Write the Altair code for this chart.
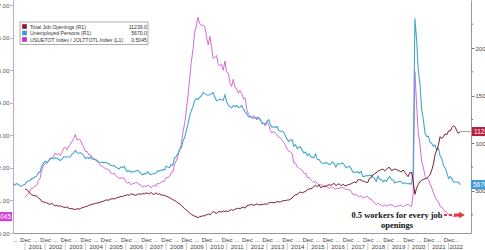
import altair as alt
import pandas as pd

# ---------------- data (thousands / ratio) ----------------
unemp_start = "2000-05-01"
unemployed = [
    5758, 5651, 5773, 5673, 5559, 5509, 5637, 5676,
    6001, 6050, 6107, 6303, 6317, 6485, 6554, 6921, 7014, 7601, 7932, 8114,
    8003, 8140, 8306, 8470, 8371, 8501, 8425, 8335, 8202, 8311, 8614, 8563,
    8584, 8544, 8582, 8847, 9001, 9248, 9022, 8961, 9033, 8893, 8719, 8395,
    8534, 8409, 8553, 8330, 8351, 8305, 8202, 8011, 7973, 8028, 7951, 8013,
    7947, 7855, 7707, 7651, 7666, 7512, 7404, 7301, 7521, 7445, 7600, 7204,
    7038, 7127, 6983, 7048, 6999, 7093, 7173, 7027, 6835, 6684, 6844, 6806,
    7014, 6814, 6723, 6774, 6844, 6895, 7109, 7115, 7176, 7243, 7221, 7596,
    7519, 7461, 7786, 7705, 8451, 8639, 8891, 9377, 9526, 10209, 10631, 11325,
    12058, 12898, 13426, 13853, 14499, 14707, 14601, 14814, 15009, 15352, 15219, 15098,
    15046, 15113, 15202, 15325, 14849, 14474, 14512, 14648, 14579, 14516, 15081, 14348,
    14013, 13820, 13737, 13957, 13855, 13962, 13763, 13818, 13948, 13594, 13302, 13093,
    12797, 12813, 12713, 12646, 12660, 12692, 12656, 12471, 12115, 12124, 12005, 12298,
    12471, 11950, 11689, 11760, 11654, 11751, 11335, 11279, 11270, 11136, 10787, 10404,
    10202, 10349, 10380, 9702, 9859, 9460, 9608, 9599, 9262, 8990, 9090, 8717,
    8903, 8610, 8504, 8526, 8875, 8299, 8305, 8029, 7919, 7892, 7992, 7907,
    7759, 7862, 8051, 7913, 7494, 7879, 7817, 7861, 7936, 7729, 7429, 7527,
    7610, 7364, 7001, 6958, 6969, 7022, 6861, 7069, 6506, 6524, 6621, 6590,
    6630, 6666, 6455, 6320, 6013, 6552, 6250, 6181, 5975, 6129, 5998, 6294,
    6520, 6177, 6177, 5830, 5937, 5960, 5990, 5975, 5776, 5861, 5791, 5753,
    5796, 5717, 7185, 23109, 20975, 17697, 16308, 13542, 12535, 11049, 10728, 10736,
    10130, 9972, 9710, 9812, 9316, 9484, 8702, 8384, 7674, 7418, 6907, 6319,
    6510, 6270, 5952, 5941, 5950, 5912, 5670,
]

open_start = "2000-12-01"
openings = [
    5200,
    5150, 5000, 4750, 4600, 4550, 4500, 4450, 4300, 4150, 3900, 3850, 3800,
    3750, 3650, 3600, 3700, 3550, 3450, 3500, 3400, 3450, 3350, 3300, 3250,
    3350, 3200, 3150, 3150, 3100, 3050, 3150, 3100, 3150, 3250, 3300, 3350,
    3400, 3500, 3550, 3600, 3650, 3700, 3750, 3750, 3850, 3900, 3950, 4050,
    4050, 4050, 4150, 4200, 4150, 4250, 4300, 4350, 4450, 4400, 4500, 4550,
    4600, 4550, 4700, 4650, 4600, 4550, 4650, 4700, 4650, 4750, 4700, 4800,
    4750, 4700, 4850, 4700, 4650, 4800, 4650, 4700, 4600, 4550, 4550, 4450,
    4400, 4300, 4200, 4100, 4000, 3900, 3750, 3650, 3500, 3300, 3150, 3000,
    2850, 2700, 2550, 2450, 2350, 2300, 2200, 2300, 2350, 2400, 2400, 2500,
    2600, 2500, 2650, 2850, 2750, 2650, 2800, 2850, 2800, 2900, 2850, 2900,
    2850, 3000, 3050, 2950, 3100, 3150, 3200, 3150, 3250, 3300, 3200, 3450,
    3500, 3550, 3600, 3500, 3550, 3650, 3550, 3550, 3600, 3600, 3650, 3600,
    3750, 3800, 3800, 3750, 3800, 3900, 3850, 3850, 3950, 4000, 4000, 4050,
    4050, 4150, 4250, 4500, 4600, 4650, 4800, 4900, 4800, 4900, 4950, 5150,
    5200, 5250, 5300, 5500, 5600, 5450, 5650, 5350, 5450, 5500, 5450, 5600,
    5650, 5600, 5700, 5800, 5550, 5700, 5750, 5550, 5700, 5600, 5550, 5650,
    5700, 5750, 5850, 5950, 5850, 6150, 6200, 6150, 6050, 6000, 5900, 5900,
    6350, 6400, 6700, 6800, 6900, 7100, 7150, 7250, 7300, 7100, 7250, 7450,
    7450, 7150, 7200, 7300, 7250, 7150, 7100, 7000, 7200, 6950, 6700, 6500,
    6950, 6950, 6000, 4650, 5300, 5700, 5950, 6150, 6200, 6300, 6300, 6500,
    6700, 7200, 7800, 8800, 9300, 9800, 10700, 10500, 10700, 11000, 10900, 11300,
    11300, 11650, 11850, 11700, 11300, 11050, 11239,
]

legend_names = ["Total Job Openings (R1)", "Unemployed Persons (R1)",
                "USUETOT Index / JOLTTOTL Index (L1)"]
legend_values = ["11239.0", "5670.0", "0.5045"]
legend_colors = ["#8e1b36", "#3d98d6", "#c72ec9"]

dec_years = list(range(2000, 2022))
mid_years = list(range(2000, 2023))

left_ticks = [0, 1, 2, 3, 4, 5, 6, 7]
right_ticks = [5000, 10000, 15000, 20000]
right_minor = [2500, 7500, 12500, 17500, 22500]

annot_line1 = "0.5 workers for every job"
annot_line2 = "openings"

# ---------------- frames ----------------
df_u = pd.DataFrame({"date": pd.date_range(unemp_start, periods=len(unemployed), freq="MS"),
                     "unemployed": unemployed})
df_o = pd.DataFrame({"date": pd.date_range(open_start, periods=len(openings), freq="MS"),
                     "openings": openings})
df = df_u.merge(df_o, on="date", how="left")
df["date"] = df["date"].dt.strftime("%Y-%m-%d")
df_o["date"] = df_o["date"].dt.strftime("%Y-%m-%d")
df_u["date"] = df_u["date"].dt.strftime("%Y-%m-%d")

last = pd.DataFrame({"date": [df_o["date"].iloc[-1]],
                     "openings": [openings[-1]],
                     "unemployed": [unemployed[-1]],
                     "ratio": [float(legend_values[2])],
                     "t_open": [str(openings[-1])],
                     "t_unemp": [str(unemployed[-1])],
                     "t_ratio": [legend_values[2]]})

leg = pd.DataFrame({"row": [0, 1, 2], "name": legend_names, "val": legend_values,
                    "color": legend_colors})

seps = pd.DataFrame({"date": [f"{y}-12-01" for y in dec_years]})
one = pd.DataFrame({"a": [0]})

FONT = "Liberation Sans"
xscale = alt.Scale(domain=[alt.DateTime(year=2000, month=4, date=28),
                           alt.DateTime(year=2023, month=1, date=12)], nice=False)
tick_vals = ([alt.DateTime(year=y, month=12, date=1) for y in dec_years] +
             [alt.DateTime(year=y, month=6, date=1) for y in mid_years[:-1]] +
             [alt.DateTime(year=2022, month=4, date=10)])
label_expr = ("month(datum.value) == 11 ? 'Dec' : "
              "(year(datum.value) == 2000 ? '...' : ['...', timeFormat(datum.value, '%Y')])")
xaxis = alt.Axis(values=tick_vals, labelExpr=label_expr,
                 labelOverlap=False, labelFlush=False, labelBound=False, tickSize=0,
                 domainColor="#999999", labelFontSize=6, labelFont=FONT,
                 labelColor="#444444", labelPadding=3, labelLineHeight=7.5,
                 labelBaseline="top", title=None, grid=False)
X = alt.X("date:T", scale=xscale, axis=xaxis)

lscale = alt.Scale(domain=[0, 7.169], nice=False, zero=False)
rscale = alt.Scale(domain=[594, 25036], nice=False, zero=False)

laxis = alt.Axis(orient="left", values=left_ticks, format=".2f", tickSize=3, labelPadding=1,
                 labelFontSize=6, labelFont=FONT, labelColor="#555555",
                 domainColor="#c9a0d6", tickColor="#c9a0d6", grid=False, title=None)
raxis = alt.Axis(orient="right", values=right_ticks, format="d", tickSize=3, labelPadding=1,
                 labelFontSize=6, labelFont=FONT, labelColor="#444444",
                 domainColor="#999999", tickColor="#777777", grid=False, title=None)

ratio_line = alt.Chart(df).transform_filter("isValid(datum.openings)").transform_calculate(
    ratio="datum.unemployed / datum.openings"
).mark_line(color="#d56bd7", strokeWidth=1).encode(
    x=X, y=alt.Y("ratio:Q", scale=lscale, axis=laxis))

unemp_line = alt.Chart(df_u).mark_line(color="#45a7cf", strokeWidth=1.1).encode(
    x=X, y=alt.Y("unemployed:Q", scale=rscale, axis=raxis))

open_line = alt.Chart(df_o).mark_line(color="#7e1a2e", strokeWidth=1).encode(
    x=X, y=alt.Y("openings:Q", scale=rscale, axis=None))

minor = alt.Chart(pd.DataFrame({"v": right_minor})).mark_rule(color="#777777").encode(
    y=alt.Y("v:Q", scale=rscale, axis=None), x=alt.value(458), x2=alt.value(460))

# leaders and end labels
lead_open = alt.Chart(last).mark_rule(color="#aaaaaa", strokeWidth=1).encode(
    x=X, x2=alt.value(459), y=alt.Y("openings:Q", scale=rscale, axis=None))
box_path = "M-1,-0.35L1,-0.35L1,0.35L-1,0.35Z"
box_open = alt.Chart(last).mark_point(shape=box_path, filled=True, size=676, opacity=1,
                                      color="#b5203c").encode(
    x=alt.value(472), y=alt.Y("openings:Q", scale=rscale, axis=None))
txt_open = alt.Chart(last).mark_text(align="left", baseline="middle", fontSize=6.5, font=FONT,
                                     color="white").encode(
    x=alt.value(461), y=alt.Y("openings:Q", scale=rscale, axis=None), text="t_open:N")
box_unemp = alt.Chart(last).mark_point(shape=box_path, filled=True, size=676, opacity=1,
                                       color="#3d9ad8").encode(
    x=alt.value(471), y=alt.Y("unemployed:Q", scale=rscale, axis=None))
txt_unemp = alt.Chart(last).mark_text(align="left", baseline="middle", fontSize=6.5, font=FONT,
                                      color="white").encode(
    x=alt.value(460), y=alt.Y("unemployed:Q", scale=rscale, axis=None), text="t_unemp:N")
box_ratio = alt.Chart(last).mark_point(shape=box_path, filled=True, size=676, opacity=1,
                                       color="#d23fd4").encode(
    x=alt.value(-14), y=alt.Y("ratio:Q", scale=lscale, axis=None))
txt_ratio = alt.Chart(last).mark_text(align="right", baseline="middle", fontSize=6.5, font=FONT,
                                      color="white").encode(
    x=alt.value(-2), y=alt.Y("ratio:Q", scale=lscale, axis=None), text="t_ratio:N")

# legend
leg_y = alt.Y("row:O", scale=alt.Scale(domain=[0, 1, 2], range=[26.5, 39.5], padding=0), axis=None)
leg_box = alt.Chart(one).mark_rect(fill="white", stroke="#999999", strokeWidth=0.8).encode(
    x=alt.value(7), x2=alt.value(135), y=alt.value(22), y2=alt.value(44.5))
leg_sq = alt.Chart(leg).mark_square(size=22, opacity=1, filled=True).encode(
    x=alt.value(11.5), y=leg_y, color=alt.Color("color:N", scale=None))
leg_name = alt.Chart(leg).mark_text(align="left", baseline="middle", fontSize=5.2, font=FONT,
                                    color="#333333").encode(
    x=alt.value(17), y=leg_y, text="name:N")
leg_val = alt.Chart(leg).mark_text(align="right", baseline="middle", fontSize=5.2, font=FONT,
                                   color="#333333").encode(
    x=alt.value(134), y=leg_y, text="val:N")

# year separators below the axis
sep = alt.Chart(seps).mark_rule(color="#bbbbbb", strokeWidth=0.8).encode(
    x=X, y=alt.value({"expr": "height + 10"}), y2=alt.value({"expr": "height + 17"}))

# annotation
ann1 = alt.Chart(one).mark_text(font="Liberation Serif", fontWeight="bold", fontSize=8.5,
                                color="#111111", baseline="middle").encode(
    x=alt.value(384), y=alt.value(215), text=alt.value(annot_line1))
ann2 = alt.Chart(one).mark_text(font="Liberation Serif", fontWeight="bold", fontSize=8.5,
                                color="#111111", baseline="middle").encode(
    x=alt.value(384), y=alt.value(225), text=alt.value(annot_line2))
arr_dash = alt.Chart(one).mark_rule(color="#e33a3f", strokeWidth=2, strokeDash=[3, 2]).encode(
    x=alt.value(431), x2=alt.value(441), y=alt.value(215))
arr_shaft = alt.Chart(one).mark_rule(color="#e33a3f", strokeWidth=3).encode(
    x=alt.value(441), x2=alt.value(447), y=alt.value(215))
arr_head = alt.Chart(one).mark_point(shape="triangle-right", filled=True, size=45, opacity=1,
                                     color="#e33a3f").encode(
    x=alt.value(449), y=alt.value(215))

chart = alt.layer(
    ratio_line, unemp_line, open_line, minor,
    lead_open, box_open, txt_open, box_unemp, txt_unemp, box_ratio, txt_ratio,
    leg_box, leg_sq, leg_name, leg_val,
    sep,
    ann1, ann2, arr_dash, arr_shaft, arr_head,
).resolve_scale(y="independent").properties(
    width=458, height=233,
    padding={"left": 13, "top": 0, "right": 14, "bottom": 17},
    autosize=alt.AutoSizeParams(type="none"),
    background="white",
).configure_view(stroke=None)

chart.save("out.html", embed_options={"renderer": "svg", "actions": False})
